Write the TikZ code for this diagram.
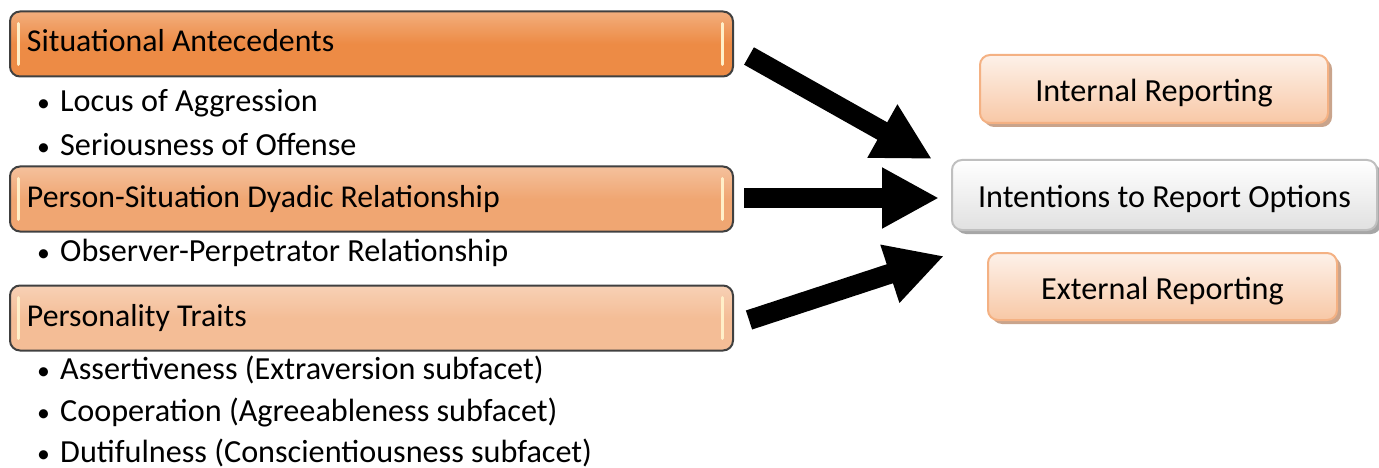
\documentclass[tikz,border=0pt]{standalone}
\usepackage{fontspec}
\setmainfont{Carlito}
\usetikzlibrary{arrows.meta,shadows}

\definecolor{bordo}{HTML}{404040}
\definecolor{arancioA}{HTML}{ED8B45}
\definecolor{arancioB}{HTML}{F0A672}
\definecolor{arancioC}{HTML}{F4BD96}
\definecolor{luce}{HTML}{FFEFC8}
\definecolor{bordoesito}{HTML}{F4B183}
\definecolor{altoesito}{HTML}{FDF1E9}
\definecolor{bassoesito}{HTML}{F8C8A6}
\definecolor{ombraesito}{HTML}{C9A48C}

\tikzset{
  every node/.style={font=\fontsize{32.2pt}{38pt}\selectfont},
  titolo/.style={draw=bordo, line width=2pt, rounded corners=10pt,
    top color=#1!70!white, bottom color=#1, middle color=#1,
    font=\fontsize{31.8pt}{38pt}\selectfont,
    inner xsep=17pt, minimum height=65pt,
    execute at begin node={\hbox to 689pt\bgroup},
    execute at end node={\hfil\egroup},
    text height=24pt, text depth=8pt,
    path picture={
      \draw[luce, line width=3pt, line cap=round]
        ([xshift=8pt,yshift=-12pt]path picture bounding box.north west) --
        ([xshift=8pt,yshift=12pt]path picture bounding box.south west);
      \draw[luce, line width=3pt, line cap=round]
        ([xshift=-11pt,yshift=-12pt]path picture bounding box.north east) --
        ([xshift=-11pt,yshift=12pt]path picture bounding box.south east);
    }},
  voce/.style={anchor=base west, inner sep=0pt},
  esito/.style={draw=bordoesito, line width=2pt, rounded corners=10pt,
    top color=altoesito, bottom color=bassoesito,
    drop shadow={shadow xshift=4pt, shadow yshift=-4pt, fill=ombraesito, opacity=1},
    inner sep=0pt, text height=34pt, text depth=8pt},
  scelta/.style={draw=black!25, line width=2pt, rounded corners=10pt,
    top color=white, bottom color=black!12,
    drop shadow={shadow xshift=4pt, shadow yshift=-4pt, fill=black!35, opacity=1},
    inner sep=0pt, text height=32pt, text depth=8pt},
  freccia/.style={line width=20pt, -{Triangle[width=57pt,length=57pt]}},
}

\newcommand{\pallino}{\makebox[25pt][l]{\hspace{2pt}\scalebox{0.8}{\textbullet}}}

\begin{document}
\begin{tikzpicture}[x=1pt,y=-1pt]
  \useasboundingbox (0,0) rectangle (1379,468);

  % Riquadri a sinistra
  \node[titolo=arancioA] (sa) at (371.5,44) {Situational Antecedents};
  \node[titolo=arancioB] (ps) at (371.5,199) {Person-Situation Dyadic Relationship};
  \node[titolo=arancioC] (pt) at (371.5,318) {Personality Traits};

  % Voci
  \node[voce] (v1) at (35,112) {\pallino Locus of Aggression};
  \node[voce] (v2) at (35,156) {\pallino Seriousness of Offense};
  \node[voce] (v3) at (35,261) {\pallino Observer-Perpetrator Relationship};
  \node[voce] (v4) at (35,379.5) {\pallino Assertiveness (Extraversion subfacet)};
  \node[voce] (v5) at (35,421.5) {\pallino Cooperation (Agreeableness subfacet)};
  \node[voce] (v6) at (35,462.5) {\pallino Dutifulness (Conscientiousness subfacet)};

  % Riquadri a destra
  \node[esito, minimum width=348pt, minimum height=68pt] (ir) at (1154,89) {Internal Reporting};
  \node[scelta, minimum width=425pt, minimum height=70pt] (ro) at (1164.5,195) {Intentions to Report Options};
  \node[esito, minimum width=349pt, minimum height=67pt] (er) at (1162.5,286.5) {External Reporting};

  % Frecce
  \draw[freccia] ([xshift=15pt,yshift=-12pt]sa.east) -- ([xshift=-19pt]ro.north west);
  \draw[freccia] ([xshift=10pt,yshift=1pt]ps.east) -- ([xshift=-12pt,yshift=-3pt]ro.west);
  \draw[freccia] ([xshift=15pt,yshift=-2pt]pt.east) -- ([xshift=-43pt,yshift=-4pt]er.north west);
\end{tikzpicture}
\end{document}
